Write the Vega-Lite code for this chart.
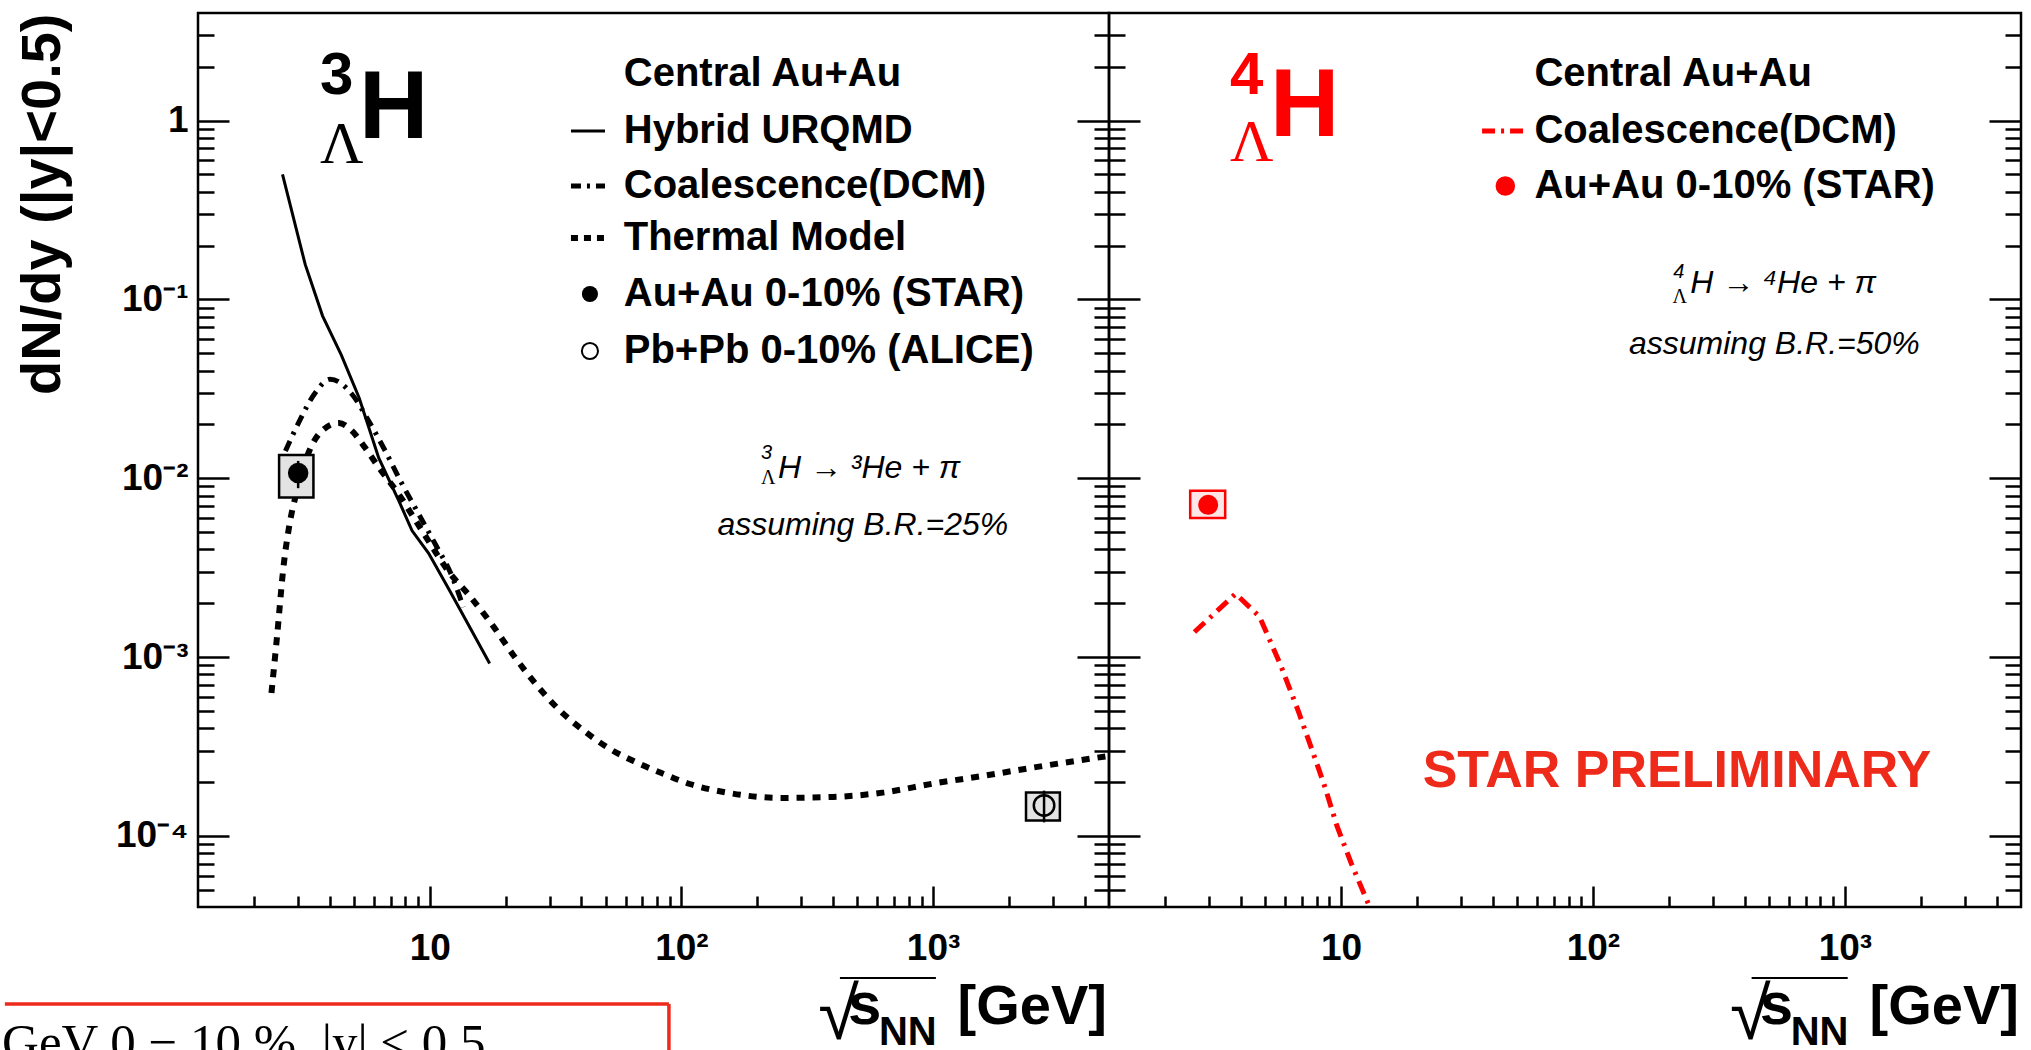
{
  "$schema": "https://vega.github.io/schema/vega-lite/v6.json",
  "background": "white",
  "padding": {"left": 0, "top": 11, "right": 5, "bottom": 0},
  "spacing": 0,
  "bounds": "flush",
  "config": {
    "view": {"stroke": "black", "strokeWidth": 2.5},
    "axis": {"labelFont": "Liberation Sans", "titleFont": "Liberation Sans"}
  },
  "datasets": {
    "hybrid": [
      {"s": 2.6, "v": 0.5}, {"s": 3.2, "v": 0.157}, {"s": 3.75, "v": 0.081}, {"s": 4.45, "v": 0.049},
      {"s": 5.24, "v": 0.0282}, {"s": 6.27, "v": 0.013}, {"s": 7.53, "v": 0.0075}, {"s": 8.5, "v": 0.0051},
      {"s": 9.9, "v": 0.0038}, {"s": 11.9, "v": 0.0024}, {"s": 14.7, "v": 0.0014}, {"s": 17.3, "v": 0.00092}
    ],
    "coal3": [
      {"s": 2.67, "v": 0.0142}, {"s": 3.01, "v": 0.0204}, {"s": 3.51, "v": 0.0301}, {"s": 4.02, "v": 0.0358},
      {"s": 4.91, "v": 0.0295}, {"s": 5.72, "v": 0.0209}, {"s": 6.66, "v": 0.0142}, {"s": 7.76, "v": 0.0093},
      {"s": 9.04, "v": 0.0063}, {"s": 10.5, "v": 0.0043}, {"s": 12.3, "v": 0.0028}, {"s": 13.6, "v": 0.0019}
    ],
    "thermal": [
      {"s": 2.35, "v": 0.00063}, {"s": 2.47, "v": 0.00128}, {"s": 2.63, "v": 0.0033}, {"s": 2.79, "v": 0.0058},
      {"s": 2.97, "v": 0.0085}, {"s": 3.3, "v": 0.0139}, {"s": 3.73, "v": 0.0184}, {"s": 4.35, "v": 0.0204},
      {"s": 4.91, "v": 0.0184}, {"s": 5.54, "v": 0.0148}, {"s": 6.27, "v": 0.0115}, {"s": 7.5, "v": 0.0082},
      {"s": 9.0, "v": 0.0055}, {"s": 10.5, "v": 0.0039}, {"s": 11.9, "v": 0.003}, {"s": 14.4, "v": 0.0022},
      {"s": 17.5, "v": 0.00155}, {"s": 22, "v": 0.00098}, {"s": 27, "v": 0.00068}, {"s": 33, "v": 0.0005},
      {"s": 40.7, "v": 0.00039}, {"s": 52, "v": 0.000306}, {"s": 66, "v": 0.000258}, {"s": 85, "v": 0.000222},
      {"s": 108, "v": 0.000195}, {"s": 150, "v": 0.000175}, {"s": 250, "v": 0.000163}, {"s": 400, "v": 0.000165},
      {"s": 640, "v": 0.000175}, {"s": 1000, "v": 0.000196}, {"s": 1600, "v": 0.000217}, {"s": 2500, "v": 0.000241},
      {"s": 5000, "v": 0.00028}
    ],
    "star3": [{"s": 3.0, "v": 0.0107, "vlo": 0.0088, "vhi": 0.0125, "slo": 2.52, "shi": 3.45, "syslo": 0.0078, "syshi": 0.0135}],
    "alice": [{"s": 2760, "v": 0.000148, "vlo": 0.000119, "vhi": 0.000179, "slo": 2340, "shi": 3190, "syslo": 0.000122, "syshi": 0.000175}],
    "star4": [{"s": 2.97, "v": 0.0071, "vlo": 0.0063, "vhi": 0.008, "slo": 2.52, "shi": 3.47, "syslo": 0.006, "syshi": 0.0085}],
    "coal4": [
      {"s": 2.62, "v": 0.00138}, {"s": 3.82, "v": 0.00226}, {"s": 4.75, "v": 0.00168}, {"s": 5.75, "v": 0.000907},
      {"s": 6.76, "v": 0.000501}, {"s": 7.75, "v": 0.000291}, {"s": 8.64, "v": 0.000187}, {"s": 9.63, "v": 0.000114},
      {"s": 11.0, "v": 0.0000698}, {"s": 13.0, "v": 0.00004}, {"s": 13.6, "v": 0.000033}
    ]
  },
  "hconcat": [
    {
      "width": 911,
      "height": 894,
      "data": {"values": [{}]},
      "resolve": {"axis": {"x": "independent", "y": "independent"}},
      "layer": [
        {
          "data": {"name": "thermal"},
          "mark": {"type": "line", "color": "black", "strokeWidth": 6, "strokeDash": [8, 8], "interpolate": "monotone", "clip": true},
          "encoding": {
            "x": {"field": "s", "type": "quantitative", "scale": {"type": "log", "domain": [1.2, 5000], "nice": false},
              "axis": {"orient": "bottom", "title": null, "values": [2,3,4,5,6,7,8,9,10,20,30,40,50,60,70,80,90,100,200,300,400,500,600,700,800,900,1000,2000,3000,4000],
                "labelExpr": "datum.value == 10 ? '10' : datum.value == 100 ? '10²' : datum.value == 1000 ? '10³' : ''",
                "tickSize": {"condition": {"test": "indexof([10,100,1000], datum.value) >= 0", "value": -21}, "value": -11},
                "tickWidth": 2.5, "tickColor": "black", "domain": false, "grid": false,
                "labelFontSize": 37, "labelFontWeight": "bold", "labelColor": "black", "labelPadding": 44,
                "labelOverlap": false, "labelFlush": false, "labelBound": false}},
            "y": {"field": "v", "type": "quantitative", "scale": {"type": "log", "domain": [0.00004, 4], "nice": false},
              "axis": {"orient": "left", "title": "dN/dy (|y|<0.5)", "titleFontSize": 56, "titleFontWeight": "bold", "titleColor": "black",
                "titleAngle": -90, "titleX": -183, "titleY": 0, "titleAlign": "right", "titleBaseline": "top",
                "values": [0.00005,0.00006,0.00007,0.00008,0.00009,0.0001,0.0002,0.0003,0.0004,0.0005,0.0006,0.0007,0.0008,0.0009,0.001,0.002,0.003,0.004,0.005,0.006,0.007,0.008,0.009,0.01,0.02,0.03,0.04,0.05,0.06,0.07,0.08,0.09,0.1,0.2,0.3,0.4,0.5,0.6,0.7,0.8,0.9,1,2,3],
                "labelExpr": "datum.value == 1 ? '1' : datum.value == 0.1 ? '10⁻¹' : datum.value == 0.01 ? '10⁻²' : datum.value == 0.001 ? '10⁻³' : datum.value == 0.0001 ? '10⁻⁴' : ''",
                "tickSize": {"condition": {"test": "indexof([0.0001,0.001,0.01,0.1,1], datum.value) >= 0", "value": -31}, "value": -16},
                "tickWidth": 2.5, "tickColor": "black", "domain": false, "grid": false,
                "labelFontSize": 37, "labelFontWeight": "bold", "labelColor": "black", "labelPadding": 41,
                "labelOverlap": false, "labelFlush": false, "labelBound": false}}
          }
        },
        {
          "data": {"name": "coal3"},
          "mark": {"type": "line", "color": "black", "strokeWidth": 5, "strokeDash": [11, 7, 3, 7], "interpolate": "monotone"},
          "encoding": {
            "x": {"field": "s", "type": "quantitative", "scale": {"type": "log", "domain": [1.2, 5000], "nice": false}, "axis": null},
            "y": {"field": "v", "type": "quantitative", "scale": {"type": "log", "domain": [0.00004, 4], "nice": false}, "axis": null}
          }
        },
        {
          "data": {"name": "hybrid"},
          "mark": {"type": "line", "color": "black", "strokeWidth": 3},
          "encoding": {
            "x": {"field": "s", "type": "quantitative", "scale": {"type": "log", "domain": [1.2, 5000], "nice": false}, "axis": null},
            "y": {"field": "v", "type": "quantitative", "scale": {"type": "log", "domain": [0.00004, 4], "nice": false},
              "axis": {"orient": "right", "title": null, "labels": false,
                "values": [0.00005,0.00006,0.00007,0.00008,0.00009,0.0001,0.0002,0.0003,0.0004,0.0005,0.0006,0.0007,0.0008,0.0009,0.001,0.002,0.003,0.004,0.005,0.006,0.007,0.008,0.009,0.01,0.02,0.03,0.04,0.05,0.06,0.07,0.08,0.09,0.1,0.2,0.3,0.4,0.5,0.6,0.7,0.8,0.9,1,2,3],
                "tickSize": {"condition": {"test": "indexof([0.0001,0.001,0.01,0.1,1], datum.value) >= 0", "value": -32}, "value": -15},
                "tickWidth": 2.5, "tickColor": "black", "domain": false, "grid": false}}
          }
        },
        {
          "data": {"name": "star3"},
          "mark": {"type": "rect", "fill": "#e3e3e3", "stroke": "black", "strokeWidth": 2.5},
          "encoding": {
            "x": {"field": "slo", "type": "quantitative", "scale": {"type": "log", "domain": [1.2, 5000], "nice": false}, "axis": null},
            "x2": {"field": "shi"},
            "y": {"field": "syslo", "type": "quantitative", "scale": {"type": "log", "domain": [0.00004, 4], "nice": false}, "axis": null},
            "y2": {"field": "syshi"}
          }
        },
        {
          "data": {"name": "star3"},
          "mark": {"type": "rule", "color": "black", "strokeWidth": 2.5},
          "encoding": {
            "x": {"field": "s", "type": "quantitative", "axis": null},
            "y": {"field": "vlo", "type": "quantitative", "axis": null},
            "y2": {"field": "vhi"}
          }
        },
        {
          "data": {"name": "star3"},
          "mark": {"type": "point", "shape": "circle", "filled": true, "color": "black", "size": 420, "opacity": 1},
          "encoding": {
            "x": {"field": "s", "type": "quantitative", "axis": null},
            "y": {"field": "v", "type": "quantitative", "axis": null}
          }
        },
        {
          "data": {"name": "alice"},
          "mark": {"type": "rect", "fill": "#e3e3e3", "stroke": "black", "strokeWidth": 2.5},
          "encoding": {
            "x": {"field": "slo", "type": "quantitative", "axis": null},
            "x2": {"field": "shi"},
            "y": {"field": "syslo", "type": "quantitative", "axis": null},
            "y2": {"field": "syshi"}
          }
        },
        {
          "data": {"name": "alice"},
          "mark": {"type": "rule", "color": "black", "strokeWidth": 2.5},
          "encoding": {
            "x": {"field": "s", "type": "quantitative", "axis": null},
            "y": {"field": "vlo", "type": "quantitative", "axis": null},
            "y2": {"field": "vhi"}
          }
        },
        {
          "data": {"name": "alice"},
          "mark": {"type": "point", "shape": "circle", "filled": false, "color": "black", "strokeWidth": 2.5, "size": 420, "opacity": 1},
          "encoding": {
            "x": {"field": "s", "type": "quantitative", "axis": null},
            "y": {"field": "v", "type": "quantitative", "axis": null}
          }
        },
        {"mark": {"type": "text", "text": "Central Au+Au", "font": "Liberation Sans", "fontWeight": "bold", "fontSize": 40, "align": "left", "baseline": "middle", "color": "black"},
          "encoding": {"x": {"datum": 59, "axis": null}, "y": {"datum": 1.824, "axis": null}}},
        {"mark": {"type": "text", "text": "Hybrid URQMD", "font": "Liberation Sans", "fontWeight": "bold", "fontSize": 40, "align": "left", "baseline": "middle", "color": "black"},
          "encoding": {"x": {"datum": 59, "axis": null}, "y": {"datum": 0.875, "axis": null}}},
        {"mark": {"type": "text", "text": "Coalescence(DCM)", "font": "Liberation Sans", "fontWeight": "bold", "fontSize": 40, "align": "left", "baseline": "middle", "color": "black"},
          "encoding": {"x": {"datum": 59, "axis": null}, "y": {"datum": 0.431, "axis": null}}},
        {"mark": {"type": "text", "text": "Thermal Model", "font": "Liberation Sans", "fontWeight": "bold", "fontSize": 40, "align": "left", "baseline": "middle", "color": "black"},
          "encoding": {"x": {"datum": 59, "axis": null}, "y": {"datum": 0.2206, "axis": null}}},
        {"mark": {"type": "text", "text": "Au+Au 0-10% (STAR)", "font": "Liberation Sans", "fontWeight": "bold", "fontSize": 40, "align": "left", "baseline": "middle", "color": "black"},
          "encoding": {"x": {"datum": 59, "axis": null}, "y": {"datum": 0.1073, "axis": null}}},
        {"mark": {"type": "text", "text": "Pb+Pb 0-10% (ALICE)", "font": "Liberation Sans", "fontWeight": "bold", "fontSize": 40, "align": "left", "baseline": "middle", "color": "black"},
          "encoding": {"x": {"datum": 59, "axis": null}, "y": {"datum": 0.0515, "axis": null}}},
        {"mark": {"type": "rule", "color": "black", "strokeWidth": 3},
          "encoding": {"x": {"datum": 36.4, "axis": null}, "x2": {"datum": 49.7}, "y": {"datum": 0.875, "axis": null}}},
        {"mark": {"type": "rule", "color": "black", "strokeWidth": 5, "strokeDash": [10, 6, 3, 6]},
          "encoding": {"x": {"datum": 36.4, "axis": null}, "x2": {"datum": 49.7}, "y": {"datum": 0.431, "axis": null}}},
        {"mark": {"type": "rule", "color": "black", "strokeWidth": 6, "strokeDash": [7, 6]},
          "encoding": {"x": {"datum": 36.4, "axis": null}, "x2": {"datum": 49.7}, "y": {"datum": 0.2206, "axis": null}}},
        {"mark": {"type": "point", "shape": "circle", "filled": true, "color": "black", "size": 260, "opacity": 1},
          "encoding": {"x": {"datum": 43.3, "axis": null}, "y": {"datum": 0.1073, "axis": null}}},
        {"mark": {"type": "point", "shape": "circle", "filled": false, "color": "black", "strokeWidth": 2, "size": 260, "opacity": 1},
          "encoding": {"x": {"datum": 43.3, "axis": null}, "y": {"datum": 0.0515, "axis": null}}},
        {"mark": {"type": "text", "text": "3", "font": "Liberation Sans", "fontWeight": "bold", "fontSize": 60, "align": "left", "baseline": "alphabetic", "color": "black"},
          "encoding": {"x": {"datum": 3.66, "axis": null}, "y": {"datum": 1.41, "axis": null}}},
        {"mark": {"type": "text", "text": "Λ", "font": "Liberation Serif", "fontSize": 60, "align": "left", "baseline": "alphabetic", "color": "black"},
          "encoding": {"x": {"datum": 3.66, "axis": null}, "y": {"datum": 0.58, "axis": null}}},
        {"mark": {"type": "text", "text": "H", "font": "Liberation Sans", "fontWeight": "bold", "fontSize": 96, "align": "left", "baseline": "alphabetic", "color": "black"},
          "encoding": {"x": {"datum": 5.23, "axis": null}, "y": {"datum": 0.8, "axis": null}}},
        {"mark": {"type": "text", "text": "H → ³He + π", "font": "Liberation Sans", "fontStyle": "italic", "fontSize": 32, "align": "left", "baseline": "alphabetic", "color": "black"},
          "encoding": {"x": {"datum": 241.8, "axis": null}, "y": {"datum": 0.01003, "axis": null}}},
        {"mark": {"type": "text", "text": "3", "font": "Liberation Sans", "fontStyle": "italic", "fontSize": 20, "align": "left", "baseline": "alphabetic", "color": "black"},
          "encoding": {"x": {"datum": 207, "axis": null}, "y": {"datum": 0.0128, "axis": null}}},
        {"mark": {"type": "text", "text": "Λ", "font": "Liberation Serif", "fontSize": 20, "align": "left", "baseline": "alphabetic", "color": "black"},
          "encoding": {"x": {"datum": 207, "axis": null}, "y": {"datum": 0.00928, "axis": null}}},
        {"mark": {"type": "text", "text": "assuming B.R.=25%", "font": "Liberation Sans", "fontStyle": "italic", "fontSize": 32, "align": "center", "baseline": "alphabetic", "color": "black"},
          "encoding": {"x": {"datum": 526, "axis": null}, "y": {"datum": 0.004815, "axis": null}}},
        {"mark": {"type": "text", "text": "√", "font": "Liberation Sans", "fontSize": 74, "align": "left", "baseline": "alphabetic", "color": "black"},
          "encoding": {"x": {"datum": 350, "axis": null}, "y": {"datum": 0.0000073, "axis": null}}},
        {"mark": {"type": "rule", "color": "black", "strokeWidth": 2},
          "encoding": {"x": {"datum": 426.4, "axis": null}, "x2": {"datum": 1026}, "y": {"datum": 0.00001604, "axis": null}}},
        {"mark": {"type": "text", "text": "s", "font": "Liberation Sans", "fontWeight": "bold", "fontSize": 60, "align": "left", "baseline": "alphabetic", "color": "black"},
          "encoding": {"x": {"datum": 458.8, "axis": null}, "y": {"datum": 0.00000886, "axis": null}}},
        {"mark": {"type": "text", "text": "NN", "font": "Liberation Sans", "fontWeight": "bold", "fontSize": 40, "align": "left", "baseline": "alphabetic", "color": "black"},
          "encoding": {"x": {"datum": 609.2, "axis": null}, "y": {"datum": 0.0000068, "axis": null}}},
        {"mark": {"type": "text", "text": "[GeV]", "font": "Liberation Sans", "fontWeight": "bold", "fontSize": 56, "align": "right", "baseline": "alphabetic", "color": "black"},
          "encoding": {"x": {"datum": 4906, "axis": null}, "y": {"datum": 0.00000886, "axis": null}}},
        {"mark": {"type": "rule", "color": "#ee2a1b", "strokeWidth": 3.5},
          "encoding": {"x": {"datum": 0.205, "axis": null}, "x2": {"datum": 89.2}, "y": {"datum": 0.00001147, "axis": null}}},
        {"mark": {"type": "rule", "color": "#ee2a1b", "strokeWidth": 3.5},
          "encoding": {"x": {"datum": 89.2, "axis": null}, "y": {"datum": 0.00001147, "axis": null}, "y2": {"datum": 0.00000626}}},
        {"mark": {"type": "text", "text": "GeV 0 − 10 %, |y| < 0.5", "font": "Liberation Serif", "fontSize": 51, "align": "left", "baseline": "alphabetic", "color": "black"},
          "encoding": {"x": {"datum": 0.1998, "axis": null}, "y": {"datum": 0.00000565, "axis": null}}}
      ]
    },
    {
      "width": 912,
      "height": 894,
      "data": {"values": [{}]},
      "resolve": {"axis": {"x": "independent", "y": "independent"}},
      "layer": [
        {
          "data": {"name": "coal4"},
          "mark": {"type": "line", "color": "#ff0000", "strokeWidth": 5, "strokeDash": [14, 7, 3, 7], "clip": true},
          "encoding": {
            "x": {"field": "s", "type": "quantitative", "scale": {"type": "log", "domain": [1.2, 5000], "nice": false},
              "axis": {"orient": "bottom", "title": null, "values": [2,3,4,5,6,7,8,9,10,20,30,40,50,60,70,80,90,100,200,300,400,500,600,700,800,900,1000,2000,3000,4000],
                "labelExpr": "datum.value == 10 ? '10' : datum.value == 100 ? '10²' : datum.value == 1000 ? '10³' : ''",
                "tickSize": {"condition": {"test": "indexof([10,100,1000], datum.value) >= 0", "value": -21}, "value": -11},
                "tickWidth": 2.5, "tickColor": "black", "domain": false, "grid": false,
                "labelFontSize": 37, "labelFontWeight": "bold", "labelColor": "black", "labelPadding": 44,
                "labelOverlap": false, "labelFlush": false, "labelBound": false}},
            "y": {"field": "v", "type": "quantitative", "scale": {"type": "log", "domain": [0.00004, 4], "nice": false},
              "axis": {"orient": "left", "title": null, "labels": false,
                "values": [0.00005,0.00006,0.00007,0.00008,0.00009,0.0001,0.0002,0.0003,0.0004,0.0005,0.0006,0.0007,0.0008,0.0009,0.001,0.002,0.003,0.004,0.005,0.006,0.007,0.008,0.009,0.01,0.02,0.03,0.04,0.05,0.06,0.07,0.08,0.09,0.1,0.2,0.3,0.4,0.5,0.6,0.7,0.8,0.9,1,2,3],
                "tickSize": {"condition": {"test": "indexof([0.0001,0.001,0.01,0.1,1], datum.value) >= 0", "value": -31}, "value": -16},
                "tickWidth": 2.5, "tickColor": "black", "domain": false, "grid": false}}
          }
        },
        {
          "data": {"name": "star4"},
          "mark": {"type": "rect", "fill": "#ffe6e6", "stroke": "#ff0000", "strokeWidth": 2.5},
          "encoding": {
            "x": {"field": "slo", "type": "quantitative", "scale": {"type": "log", "domain": [1.2, 5000], "nice": false}, "axis": null},
            "x2": {"field": "shi"},
            "y": {"field": "syslo", "type": "quantitative", "scale": {"type": "log", "domain": [0.00004, 4], "nice": false}, "axis": null},
            "y2": {"field": "syshi"}
          }
        },
        {
          "data": {"name": "star4"},
          "mark": {"type": "rule", "color": "#ff0000", "strokeWidth": 2.5},
          "encoding": {
            "x": {"field": "s", "type": "quantitative", "axis": null},
            "y": {"field": "vlo", "type": "quantitative", "axis": null},
            "y2": {"field": "vhi"}
          }
        },
        {
          "data": {"name": "star4"},
          "mark": {"type": "point", "shape": "circle", "filled": true, "color": "#ff0000", "size": 400, "opacity": 1},
          "encoding": {
            "x": {"field": "s", "type": "quantitative", "axis": null},
            "y": {"field": "v", "type": "quantitative",
              "axis": {"orient": "right", "title": null, "labels": false,
                "values": [0.00005,0.00006,0.00007,0.00008,0.00009,0.0001,0.0002,0.0003,0.0004,0.0005,0.0006,0.0007,0.0008,0.0009,0.001,0.002,0.003,0.004,0.005,0.006,0.007,0.008,0.009,0.01,0.02,0.03,0.04,0.05,0.06,0.07,0.08,0.09,0.1,0.2,0.3,0.4,0.5,0.6,0.7,0.8,0.9,1,2,3],
                "tickSize": {"condition": {"test": "indexof([0.0001,0.001,0.01,0.1,1], datum.value) >= 0", "value": -32}, "value": -16},
                "tickWidth": 2.5, "tickColor": "black", "domain": false, "grid": false}}
          }
        },
        {"mark": {"type": "text", "text": "Central Au+Au", "font": "Liberation Sans", "fontWeight": "bold", "fontSize": 40, "align": "left", "baseline": "middle", "color": "black"},
          "encoding": {"x": {"datum": 58.6, "axis": null}, "y": {"datum": 1.824, "axis": null}}},
        {"mark": {"type": "text", "text": "Coalescence(DCM)", "font": "Liberation Sans", "fontWeight": "bold", "fontSize": 40, "align": "left", "baseline": "middle", "color": "black"},
          "encoding": {"x": {"datum": 58.6, "axis": null}, "y": {"datum": 0.875, "axis": null}}},
        {"mark": {"type": "text", "text": "Au+Au 0-10% (STAR)", "font": "Liberation Sans", "fontWeight": "bold", "fontSize": 40, "align": "left", "baseline": "middle", "color": "black"},
          "encoding": {"x": {"datum": 58.6, "axis": null}, "y": {"datum": 0.431, "axis": null}}},
        {"mark": {"type": "rule", "color": "#ff0000", "strokeWidth": 5, "strokeDash": [13, 6, 3, 6]},
          "encoding": {"x": {"datum": 36.3, "axis": null}, "x2": {"datum": 53.8}, "y": {"datum": 0.875, "axis": null}}},
        {"mark": {"type": "point", "shape": "circle", "filled": true, "color": "#ff0000", "size": 380, "opacity": 1},
          "encoding": {"x": {"datum": 44.9, "axis": null}, "y": {"datum": 0.431, "axis": null}}},
        {"mark": {"type": "text", "text": "4", "font": "Liberation Sans", "fontWeight": "bold", "fontSize": 60, "align": "left", "baseline": "alphabetic", "color": "#ff0000"},
          "encoding": {"x": {"datum": 3.63, "axis": null}, "y": {"datum": 1.41, "axis": null}}},
        {"mark": {"type": "text", "text": "Λ", "font": "Liberation Serif", "fontSize": 60, "align": "left", "baseline": "alphabetic", "color": "#ff0000"},
          "encoding": {"x": {"datum": 3.63, "axis": null}, "y": {"datum": 0.595, "axis": null}}},
        {"mark": {"type": "text", "text": "H", "font": "Liberation Sans", "fontWeight": "bold", "fontSize": 96, "align": "left", "baseline": "alphabetic", "color": "#ff0000"},
          "encoding": {"x": {"datum": 5.23, "axis": null}, "y": {"datum": 0.82, "axis": null}}},
        {"mark": {"type": "text", "text": "H → ⁴He + π", "font": "Liberation Sans", "fontStyle": "italic", "fontSize": 32, "align": "left", "baseline": "alphabetic", "color": "black"},
          "encoding": {"x": {"datum": 243.6, "axis": null}, "y": {"datum": 0.1087, "axis": null}}},
        {"mark": {"type": "text", "text": "4", "font": "Liberation Sans", "fontStyle": "italic", "fontSize": 20, "align": "left", "baseline": "alphabetic", "color": "black"},
          "encoding": {"x": {"datum": 208.5, "axis": null}, "y": {"datum": 0.1318, "axis": null}}},
        {"mark": {"type": "text", "text": "Λ", "font": "Liberation Serif", "fontSize": 20, "align": "left", "baseline": "alphabetic", "color": "black"},
          "encoding": {"x": {"datum": 207, "axis": null}, "y": {"datum": 0.0955, "axis": null}}},
        {"mark": {"type": "text", "text": "assuming B.R.=50%", "font": "Liberation Sans", "fontStyle": "italic", "fontSize": 32, "align": "center", "baseline": "alphabetic", "color": "black"},
          "encoding": {"x": {"datum": 525, "axis": null}, "y": {"datum": 0.0495, "axis": null}}},
        {"mark": {"type": "text", "text": "STAR PRELIMINARY", "font": "Liberation Sans", "fontWeight": "bold", "fontSize": 52, "align": "center", "baseline": "alphabetic", "color": "#ee2a1b"},
          "encoding": {"x": {"datum": 215.3, "axis": null}, "y": {"datum": 0.0001876, "axis": null}}},
        {"mark": {"type": "text", "text": "√", "font": "Liberation Sans", "fontSize": 74, "align": "left", "baseline": "alphabetic", "color": "black"},
          "encoding": {"x": {"datum": 350, "axis": null}, "y": {"datum": 0.0000073, "axis": null}}},
        {"mark": {"type": "rule", "color": "black", "strokeWidth": 2},
          "encoding": {"x": {"datum": 426.4, "axis": null}, "x2": {"datum": 1026}, "y": {"datum": 0.00001604, "axis": null}}},
        {"mark": {"type": "text", "text": "s", "font": "Liberation Sans", "fontWeight": "bold", "fontSize": 60, "align": "left", "baseline": "alphabetic", "color": "black"},
          "encoding": {"x": {"datum": 458.8, "axis": null}, "y": {"datum": 0.00000886, "axis": null}}},
        {"mark": {"type": "text", "text": "NN", "font": "Liberation Sans", "fontWeight": "bold", "fontSize": 40, "align": "left", "baseline": "alphabetic", "color": "black"},
          "encoding": {"x": {"datum": 609.2, "axis": null}, "y": {"datum": 0.0000068, "axis": null}}},
        {"mark": {"type": "text", "text": "[GeV]", "font": "Liberation Sans", "fontWeight": "bold", "fontSize": 56, "align": "right", "baseline": "alphabetic", "color": "black"},
          "encoding": {"x": {"datum": 4906, "axis": null}, "y": {"datum": 0.00000886, "axis": null}}}
      ]
    }
  ]
}
